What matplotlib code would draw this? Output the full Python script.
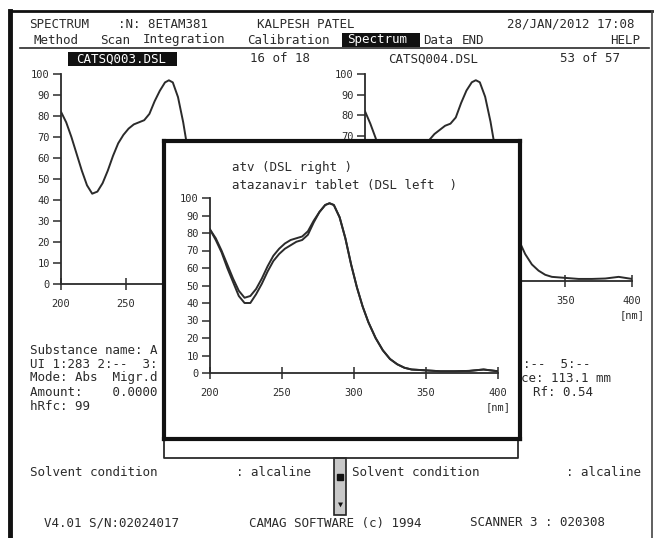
import matplotlib
matplotlib.use('Agg')
import matplotlib.pyplot as plt
from matplotlib.patches import Rectangle

# ---------------- data ----------------
wavelength = [200, 204, 208, 212, 216, 220, 224, 228, 232, 236, 240, 244, 248,
              252, 256, 260, 264, 268, 272, 276, 280, 283, 286, 290, 294, 298,
              302, 306, 310, 315, 320, 325, 330, 335, 340, 350, 360, 370, 380,
              390, 395, 400]
tablet = [82, 77, 70, 62, 54, 47, 43, 44, 48, 54, 61, 67, 71,
          74, 76, 77, 78, 81, 87, 92, 96, 97, 96, 89, 77, 62,
          49, 38, 29, 20, 13, 8, 5, 3, 2, 1.5, 1, 1, 1.2,
          2, 1.5, 1]
standard = [82, 76, 69, 60, 52, 44, 40, 40, 45, 51, 58, 64, 68,
            71, 73, 75, 76, 79, 86, 92, 96, 97, 96, 89, 77, 62,
            49, 38, 29, 20, 13, 8, 5, 3, 2, 1.5, 1, 1, 1.2,
            2, 1.5, 1]
y_ticks = [0, 10, 20, 30, 40, 50, 60, 70, 80, 90, 100]
x_ticks = [200, 250, 300, 350, 400]
legend_lines = ["atv (DSL right )", "atazanavir tablet (DSL left  )"]

# ---------------- setup ----------------
W, H = 657, 538
plt.rcParams['font.family'] = ['DejaVu Sans Mono', 'DejaVu Sans']
FS = 9.0
TFS = 7.5
INK = '#2b2b2b'

fig = plt.figure(figsize=(W / 100, H / 100), dpi=100)
fig.patch.set_facecolor('white')
bg = fig.add_axes([0, 0, 1, 1], zorder=0)
bg.set_xlim(0, W)
bg.set_ylim(H, 0)
bg.axis('off')


def ax_px(x0, y0, x1, y1, z):
    return fig.add_axes([x0 / W, 1 - y1 / H, (x1 - x0) / W, (y1 - y0) / H], zorder=z)


def txt(x, y, s, color=INK, size=FS, ax=bg, **kw):
    ax.text(x, y, s, color=color, fontsize=size, ha='left', va='center', **kw)


def spectrum_axes(ax, show_x=None, show_y=None):
    ax.set_xlim(200, 400)
    ax.set_ylim(0, 100)
    ax.patch.set_alpha(0)
    for s in ['top', 'right']:
        ax.spines[s].set_visible(False)
    for s in ['left', 'bottom']:
        ax.spines[s].set_color(INK)
        ax.spines[s].set_linewidth(1.3)
    ax.set_yticks(y_ticks)
    ax.set_xticks(x_ticks)
    ax.set_xticklabels([str(v) if (show_x is None or v in show_x) else '' for v in x_ticks])
    ax.set_yticklabels([str(v) if (show_y is None or v in show_y) else '' for v in y_ticks])
    ax.tick_params(axis='y', direction='out', length=6, width=1.1, pad=2,
                   labelsize=TFS, colors=INK)
    ax.tick_params(axis='x', direction='inout', length=8, width=1.1, pad=7,
                   labelsize=TFS, colors=INK)
    if show_x is None or 400 in show_x:
        ax.annotate('[nm]', xy=(400, 0), xytext=(0, -34), textcoords='offset pixels',
                    ha='center', va='center', fontsize=TFS, color=INK,
                    annotation_clip=False)


# ---------------- outer frame & header ----------------
bg.plot([10, 10], [11, 538], color='#111111', lw=3.5)
bg.plot([10, 652], [11, 11], color='#111111', lw=2)
bg.plot([652, 652], [11, 538], color='#444444', lw=1.2)
bg.plot([20, 649], [48, 48], color=INK, lw=1.2)

txt(29, 24, "SPECTRUM")
txt(118, 24, ":N: 8ETAM381")
txt(257, 24, "KALPESH PATEL")
txt(507, 24, "28/JAN/2012 17:08")

txt(33, 40, "Method")
txt(100, 40, "Scan")
txt(143, 40, "Integration")
txt(247, 40, "Calibration")
bg.add_patch(Rectangle((342, 33), 78, 14, facecolor='#111111', edgecolor='none'))
txt(347, 40, "Spectrum", color='white')
txt(423, 40, "Data")
txt(462, 40, "END")
txt(610, 40, "HELP")

bg.add_patch(Rectangle((68, 52), 109, 14, facecolor='#111111', edgecolor='none'))
txt(76, 59, "CATSQ003.DSL", color='white')
txt(250, 59, "16 of 18")
txt(388, 59, "CATSQ004.DSL")
txt(560, 59, "53 of 57")

# ---------------- background spectra ----------------
ax_l = ax_px(61, 74, 321, 284, 1)
spectrum_axes(ax_l, show_x=[200, 250])
ax_l.plot(wavelength, tablet, color=INK, lw=1.4)

ax_r = ax_px(365, 74, 632, 281, 1)
spectrum_axes(ax_r, show_x=[350, 400], show_y=[70, 80, 90, 100])
ax_r.plot(wavelength, standard, color=INK, lw=1.4)

# ---------------- middle texts ----------------
txt(30, 350, "Substance name: A")
txt(30, 364, "UI 1:283 2:--  3:")
txt(30, 378, "Mode: Abs  Migr.d")
txt(30, 392, "Amount:    0.0000")
txt(30, 406, "hRfc: 99")
txt(523, 364, ":--  5:--")
txt(521, 378, "ce: 113.1 mm")
txt(533, 392, "Rf: 0.54")

# ---------------- bottom area ----------------
bg.plot([164, 164, 518, 518], [439, 458, 458, 439], color=INK, lw=1.3)
txt(30, 472, "Solvent condition")
txt(236, 472, ": alcaline")
bg.add_patch(Rectangle((334, 458), 12, 57, facecolor='#c8c8c8', edgecolor='#222222', lw=1.2))
bg.plot([340], [477], marker='s', ms=4, color='#111111')
bg.text(340, 504, '\u25BC', fontsize=6, ha='center', va='center', color='#111111')
txt(352, 472, "Solvent condition")
txt(566, 472, ": alcaline")
txt(44, 523, "V4.01 S/N:02024017")
txt(249, 523, "CAMAG SOFTWARE (c) 1994")
txt(470, 523, "SCANNER 3 : 020308")

# ---------------- inset window ----------------
ax_w = ax_px(164, 141, 520, 439, 5)
ax_w.set_facecolor('white')
ax_w.set_xticks([])
ax_w.set_yticks([])
for s in ax_w.spines.values():
    s.set_linewidth(3)
    s.set_color('#111111')
ax_w.set_xlim(164, 520)
ax_w.set_ylim(439, 141)
txt(232, 167, legend_lines[0], ax=ax_w)
txt(232, 185, legend_lines[1], ax=ax_w)

ax_i = ax_px(210, 198, 498, 373, 6)
spectrum_axes(ax_i)
ax_i.plot(wavelength, tablet, color=INK, lw=1.4)
ax_i.plot(wavelength, standard, color=INK, lw=1.4)

fig.savefig('out.png', dpi=100)
